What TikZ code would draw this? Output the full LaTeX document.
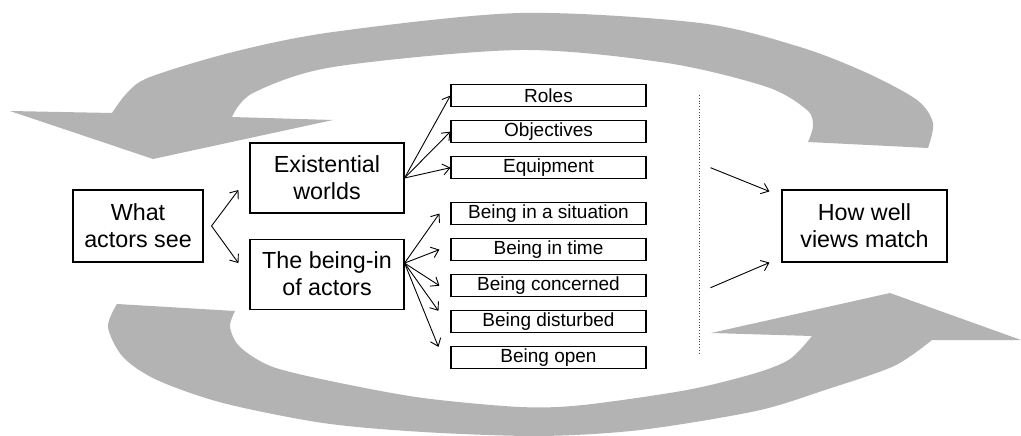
\documentclass[tikz,border=0pt]{standalone}
\usepackage{fontspec}
\setmainfont{Liberation Sans}
\usetikzlibrary{positioning, calc, arrows.meta}
\definecolor{bandgray}{RGB}{179,179,179}

\begin{document}
\begin{tikzpicture}[
    x=1pt, y=-1pt,
    node distance=13pt,
    box/.style={rectangle, draw, line width=1.1pt, align=center, inner sep=0pt, font=\fontsize{23.3}{27}\selectfont},
    item/.style={rectangle, draw, line width=1.1pt, minimum width=195pt, minimum height=22pt, inner sep=0pt, font=\fontsize{19}{22}\selectfont},
    arrow/.style={-{Straight Barb[length=7pt, width=11pt]}, line width=0.9pt},
    band/.style={fill=bandgray, draw=none}
]
\useasboundingbox (0,0) rectangle (1021,436);

% feedback bands
\fill[band] plot[smooth] coordinates {(928,148) (933,123) (917,100) (867,73) (800,47) (700,23) (520,13) (333,32) (233,52) (150,77) (127,93) (112,113)}
    -- (10,111) -- (153,159) -- (333,120)
    -- plot[smooth] coordinates {(232,117) (253,93) (333,67) (520,50) (667,63) (767,87) (807,110) (813,126) (808,142)} -- cycle;
\fill[band] plot[smooth] coordinates {(117,304) (108,327) (123,357) (157,380) (223,403) (323,423) (423,432) (540,436) (640,430) (756,411) (825,390) (894,366) (932,340)}
    -- (1021,340) -- (890,293) -- (711,333)
    -- plot[smooth] coordinates {(812,336) (790,359) (756,373) (687,390) (583,405) (520,407) (423,398) (340,383) (273,367) (240,347) (230,327) (235,311)} -- cycle;

\node[box, minimum width=130pt, minimum height=72pt] (what) at (138,226) {What\\actors see};
\node[box, minimum width=154pt, minimum height=70pt] (ew) at (327,178) {Existential\\worlds};
\node[box, minimum width=154pt, minimum height=70pt, below=25pt of ew] (bi) {The being-in\\of actors};
\node[box, minimum width=165pt, minimum height=72pt] (hw) at (864.5,226) {How well\\views match};

\node[item] (roles) at (548.5,95.5) {Roles};
\node[item, below=of roles] (objectives) {Objectives};
\node[item, below=of objectives] (equipment) {Equipment};
\node[item] (bsit) at (548.5,213.5) {Being in a situation};
\node[item, below=of bsit] (btime) {Being in time};
\node[item, below=of btime] (bconc) {Being concerned};
\node[item, below=of bconc] (bdist) {Being disturbed};
\node[item, below=of bdist] (bopen) {Being open};

\coordinate (bihub) at ($(bi.east)+(0,-11)$);
\coordinate (sepTop) at (699,95);
\coordinate (sepBot) at (699,355);

\draw[arrow] ([xshift=8pt]what.east) -- ($(ew.west)+(-11,12)$);
\draw[arrow] ([xshift=8pt]what.east) -- ($(bi.west)+(-11,-11)$);
\foreach \t in {roles, objectives, equipment}
    \draw[arrow] (ew.east) -- (\t.west);
\foreach \t in {bsit, btime, bconc}
    \draw[arrow] (bihub) -- ($(\t.west)+(-11,0)$);
\foreach \t in {bdist, bopen}
    \draw[arrow] (bihub) -- ($(\t.west)+(-12,-11)$);

\draw[dotted, line width=0.8pt, black!70] (sepTop) -- (sepBot);

\draw[arrow] ($(equipment.east)+(64,0)$) -- ($(hw.north west)+(-12,2)$);
\draw[arrow] ($(bconc.east)+(64,2)$) -- ($(hw.south west)+(-12,0)$);

\end{tikzpicture}
\end{document}
